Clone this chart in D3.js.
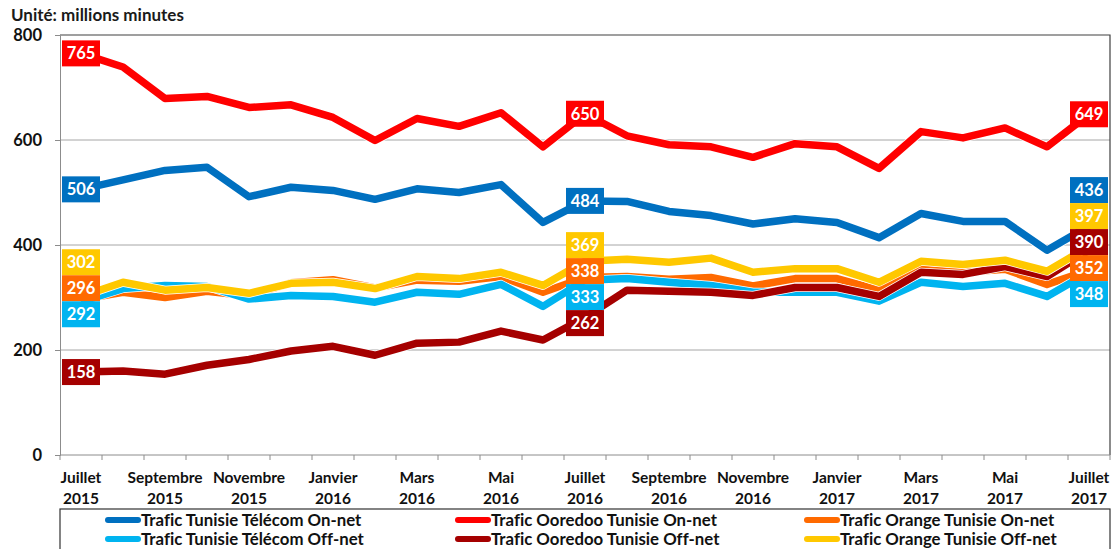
<!DOCTYPE html>
<html>
<head>
<meta charset="utf-8">
<script src="https://cdn.jsdelivr.net/npm/d3@7"></script>
<style>
  body { margin: 0; background: #fff; }
  text { font-family: Lato, "Open Sans", sans-serif; font-weight: bold; font-variant-ligatures: none; }
</style>
</head>
<body>
<svg id="chart" width="1117" height="549"></svg>
<script>
// months, Juillet 2015 -> Juillet 2017
const months = ['Juillet 2015', 'Août 2015', 'Septembre 2015', 'Octobre 2015', 'Novembre 2015', 'Décembre 2015',
  'Janvier 2016', 'Février 2016', 'Mars 2016', 'Avril 2016', 'Mai 2016', 'Juin 2016',
  'Juillet 2016', 'Août 2016', 'Septembre 2016', 'Octobre 2016', 'Novembre 2016', 'Décembre 2016',
  'Janvier 2017', 'Février 2017', 'Mars 2017', 'Avril 2017', 'Mai 2017', 'Juin 2017', 'Juillet 2017'];

const ttOn  = [506, 524, 542, 548, 492, 510, 504, 487, 507, 500, 515, 443, 484, 483, 464, 456, 440, 450, 443, 414, 460, 445, 445, 390, 436];
const ooOn  = [765, 739, 679, 683, 662, 667, 643, 599, 641, 626, 652, 587, 650, 608, 591, 587, 567, 593, 587, 546, 616, 604, 623, 587, 649];
const orOn  = [296, 310, 300, 312, 303, 328, 334, 318, 333, 331, 340, 310, 338, 340, 335, 338, 322, 336, 336, 314, 354, 348, 354, 325, 352];
const ttOff = [292, 317, 323, 321, 297, 304, 302, 291, 310, 306, 325, 283, 333, 336, 329, 323, 310, 310, 310, 293, 329, 321, 327, 302, 348];
const ooOff = [158, 160, 154, 171, 182, 198, 207, 190, 213, 215, 236, 219, 262, 314, 312, 310, 304, 319, 319, 302, 348, 344, 359, 340, 390];
const orOff = [302, 329, 314, 319, 308, 327, 329, 317, 340, 336, 348, 323, 369, 373, 367, 375, 348, 355, 355, 329, 369, 363, 371, 350, 397];

const seriesNames = ['Trafic Tunisie Télécom On-net', 'Trafic Ooredoo Tunisie On-net', 'Trafic Orange Tunisie On-net',
  'Trafic Tunisie Télécom Off-net', 'Trafic Ooredoo Tunisie Off-net', 'Trafic Orange Tunisie Off-net'];
const yTicks = [0, 200, 400, 600, 800];
const labelIdx = [0, 12, 24];         // months that carry value labels

const colors = ['#0070C0', '#FF0000', '#FF6A00', '#00B4F0', '#A50000', '#FFC800'];
const labelShift = { 0: -11, 12: 0, 24: -11 };  // nudge for stacked label groups

const series = [ttOn, ooOn, orOn, ttOff, ooOff, orOff].map((values, i) => ({
  name: seriesNames[i], color: colors[i], values
}));

const svg = d3.select('#chart');
const margin = { left: 60, top: 35, right: 7, bottom: 94 };
const width = 1117 - margin.left - margin.right;
const height = 549 - margin.top - margin.bottom;

const x = d3.scaleBand().domain(d3.range(months.length)).range([margin.left, margin.left + width]);
const y = d3.scaleLinear().domain([0, 800]).range([margin.top + height, margin.top]);
const cx = i => x(i) + x.bandwidth() / 2;

// title
svg.append('text').attr('x', 11).attr('y', 21).attr('font-size', 17).attr('fill', '#1a1a1a')
  .text('Unité: millions minutes');

// gridlines
svg.append('g').selectAll('line').data(yTicks.filter(d => d > 0 && d < 800)).join('line')
  .attr('x1', margin.left).attr('x2', margin.left + width)
  .attr('y1', d => y(d)).attr('y2', d => y(d))
  .attr('stroke', '#a6a6a6').attr('stroke-width', 1);

// plot frame (top + right)
svg.append('path')
  .attr('d', `M${margin.left},${y(800)}H${margin.left + width}V${y(0)}`)
  .attr('fill', 'none').attr('stroke', '#404040').attr('stroke-width', 1.2);

// y axis
const yAxis = svg.append('g').attr('transform', `translate(${margin.left},0)`)
  .call(d3.axisLeft(y).tickValues(yTicks).tickSize(5).tickPadding(13));
yAxis.select('.domain').attr('stroke', '#8c8c8c');
yAxis.selectAll('.tick line').attr('stroke', '#8c8c8c');
yAxis.selectAll('.tick text').attr('font-size', 16.5).attr('fill', '#111')
  .attr('font-family', 'Lato, sans-serif').attr('font-weight', 'bold');

// x axis: ticks on band edges
const xAxisG = svg.append('g');
xAxisG.append('line').attr('x1', margin.left).attr('x2', margin.left + width)
  .attr('y1', y(0)).attr('y2', y(0)).attr('stroke', '#8c8c8c');
xAxisG.selectAll('line.tk').data(d3.range(months.length + 1)).join('line').attr('class', 'tk')
  .attr('x1', i => margin.left + i * x.step()).attr('x2', i => margin.left + i * x.step())
  .attr('y1', y(0)).attr('y2', y(0) + 5).attr('stroke', '#8c8c8c');
const xl = xAxisG.selectAll('text').data(d3.range(0, months.length, 2)).join('text')
  .attr('text-anchor', 'middle').attr('font-size', 15.5).attr('fill', '#111');
xl.append('tspan').attr('x', cx).attr('y', y(0) + 28).text(i => months[i].split(' ')[0]);
xl.append('tspan').attr('x', cx).attr('y', y(0) + 49).text(i => months[i].split(' ')[1]);

// lines
const line = d3.line().x((d, i) => cx(i)).y(d => y(d));
const lg = svg.append('g');
series.forEach(s => {
  lg.append('path').attr('d', line(s.values)).attr('fill', 'none')
    .attr('stroke', '#fff').attr('stroke-width', 9).attr('stroke-linejoin', 'round');
  lg.append('path').attr('d', line(s.values)).attr('fill', 'none')
    .attr('stroke', s.color).attr('stroke-width', 7.5).attr('stroke-linejoin', 'round');
});

// value labels, stacked so boxes do not overlap
const boxW = 38, boxH = 26;
labelIdx.forEach(idx => {
  const items = series.map(s => ({ s, v: s.values[idx], target: y(s.values[idx]) }))
    .sort((a, b) => a.target - b.target);
  let clusters = items.map(it => ({ items: [it], sum: it.target }));
  let merged = true;
  const top = c => c.sum / c.items.length - (c.items.length * boxH) / 2;
  while (merged) {
    merged = false;
    for (let k = 1; k < clusters.length; k++) {
      const a = clusters[k - 1], b = clusters[k];
      if (top(a) + a.items.length * boxH > top(b)) {
        clusters.splice(k - 1, 2, { items: a.items.concat(b.items), sum: a.sum + b.sum });
        merged = true;
        break;
      }
    }
  }
  clusters.forEach(c => {
    const t = top(c) + (c.items.length > 1 ? labelShift[idx] : 0);
    c.items.forEach((it, j) => { it.cy = t + j * boxH + boxH / 2; });
  });
  const g = svg.append('g');
  items.forEach(it => {
    g.append('rect').attr('x', cx(idx) - boxW / 2).attr('y', it.cy - boxH / 2)
      .attr('width', boxW).attr('height', boxH).attr('fill', it.s.color);
    g.append('text').attr('x', cx(idx)).attr('y', it.cy).attr('dy', '0.36em')
      .attr('text-anchor', 'middle').attr('font-size', 16.5).attr('fill', '#fff').text(it.v);
  });
});

// legend
const legend = svg.append('g');
legend.append('rect').attr('x', margin.left).attr('y', 509).attr('width', width).attr('height', 60)
  .attr('fill', '#fff').attr('stroke', '#333').attr('stroke-width', 1.2);
const colX = [105, 455, 804];
const rowY = [520, 539];
series.forEach((s, i) => {
  const col = i % 3, row = Math.floor(i / 3);
  legend.append('line').attr('x1', colX[col] + 3).attr('x2', colX[col] + 33)
    .attr('y1', rowY[row]).attr('y2', rowY[row])
    .attr('stroke', s.color).attr('stroke-width', 6).attr('stroke-linecap', 'round');
  legend.append('text').attr('x', colX[col] + 36).attr('y', rowY[row]).attr('dy', '0.36em')
    .attr('font-size', 16.8).attr('fill', '#111').text(s.name);
});
</script>
</body>
</html>
